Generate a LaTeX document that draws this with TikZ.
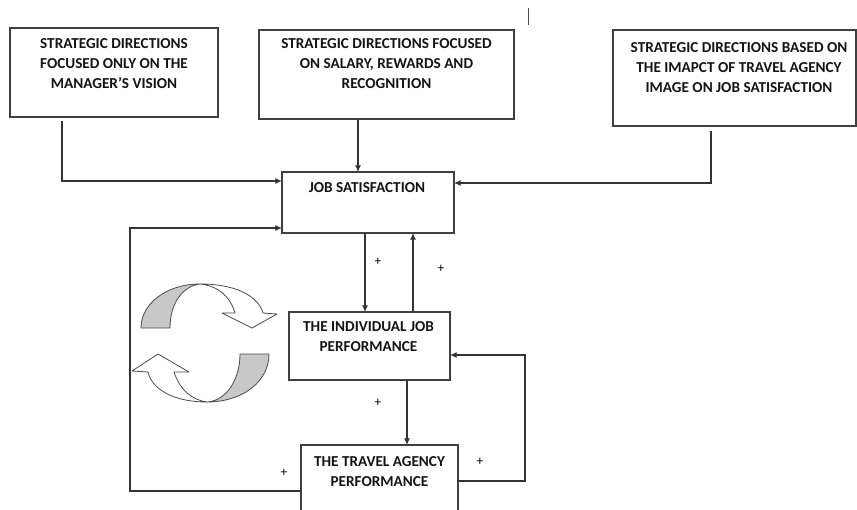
\documentclass[tikz,border=0pt]{standalone}
\usepackage{fontspec}
\setmainfont{Carlito}
\usetikzlibrary{arrows.meta}
\definecolor{ribgray}{RGB}{200,200,200}
\begin{document}
\begin{tikzpicture}[x=0.75pt,y=-0.75pt,
  box/.style={draw=black!75, line width=0.9pt, inner sep=0pt, outer sep=0pt},
  lbl/.style={font=\fontsize{11.4}{15}\selectfont\bfseries, align=center, inner sep=0pt, text=black!92},
  conn/.style={draw=black!80, line width=0.8pt, -{Latex[length=5pt,width=4.5pt]}},
  plain/.style={draw=black!80, line width=0.8pt},
  sign/.style={font=\fontsize{10}{10}\selectfont, inner sep=0pt},
  ribbon/.style={draw=black!70, line width=0.6pt, line join=round}]
\clip (0,0) rectangle (857,510);
\fill[white] (0,0) rectangle (857,510);

% boxes
\node[box, minimum width=156pt, minimum height=66.75pt] (b1) at (114,72.5) {};
\node[box, minimum width=191.25pt, minimum height=66.75pt] (b2) at (386.5,74.5) {};
\node[box, minimum width=182.25pt, minimum height=72pt] (b3) at (734.5,78) {};
\node[box, minimum width=129pt, minimum height=45.75pt] (js) at (368,202.5) {};
\node[box, minimum width=120.75pt, minimum height=51pt] (ijp) at (369.5,346) {};
\node[box, minimum width=117.75pt, minimum height=56.25pt] (tap) at (379.5,482.5) {};

% labels
\node[lbl] (t1) at (114,64) {STRATEGIC DIRECTIONS\\FOCUSED ONLY ON THE\\MANAGER’S VISION};
\node[lbl] (t2) at (386.5,64) {STRATEGIC DIRECTIONS FOCUSED\\ON SALARY, REWARDS AND\\RECOGNITION};
\node[lbl] (t3) at (739,67.5) {STRATEGIC DIRECTIONS BASED ON\\THE IMAPCT OF TRAVEL AGENCY\\IMAGE ON JOB SATISFACTION};
\node[lbl] (t4) at (367,188) {JOB SATISFACTION};
\node[lbl] (t5) at (368.5,337) {THE INDIVIDUAL JOB\\PERFORMANCE};
\node[lbl] (t6) at (379.5,471.5) {THE TRAVEL AGENCY\\PERFORMANCE};

% stray mark
\draw[black!70, line width=0.7pt] (528,8) -- (528,25);

% connectors from strategic boxes
\coordinate (k1) at (62,181);
\draw[conn] (b1.south -| k1) ++(0,4) -- (k1) -- (js.west |- k1);
\coordinate (k2) at (358,0);
\draw[conn] (b2.south -| k2) -- (js.north -| k2);
\coordinate (k3) at (711,183);
\draw[conn] (b3.south -| k3) ++(0,5) -- (k3) -- (js.east |- k3);

% inner loop
\coordinate (k4) at (365,0);
\draw[conn] (js.south -| k4) -- (ijp.north -| k4);
\coordinate (k5) at (413,0);
\draw[conn] (ijp.north -| k5) -- (js.south -| k5);
\coordinate (k6) at (407,0);
\draw[conn] (ijp.south -| k6) -- (tap.north -| k6);
\coordinate (k7) at (525,481);
\coordinate (k8) at (525,355);
\draw[conn] (tap.east |- k7) -- (k7) -- (k8) -- (ijp.east |- k8);
\coordinate (k9) at (130,491);
\coordinate (k10) at (130,228);
\draw[conn] (tap.west |- k9) -- (k9) -- (k10) -- (js.west |- k10);

% signs
\node[sign] (p1) at (378,262) {+};
\node[sign] (p2) at (441,269) {+};
\node[sign] (p3) at (378,403) {+};
\node[sign] (p4) at (480,462) {+};
\node[sign] (p5) at (284,473) {+};

% circular arrows (upper)
\filldraw[ribbon, fill=ribgray] (141,328) -- (170,328) .. controls (170,303) and (183,286) .. (200,284)
  .. controls (166,284) and (141,304) .. (141,328) -- cycle;
\filldraw[ribbon, fill=white] (200,284) .. controls (236,284) and (258,296) .. (263,313)
  -- (277,314) -- (252,328) -- (222,313) -- (235,313)
  .. controls (230,296) and (218,286) .. (200,284) -- cycle;
% circular arrows (lower)
\filldraw[ribbon, fill=ribgray] (240,354) -- (269,354) .. controls (269,382) and (242,402) .. (207,402)
  .. controls (226,401) and (240,380) .. (240,354) -- cycle;
\filldraw[ribbon, fill=white] (207,402) .. controls (175,402) and (152,390) .. (148,372)
  -- (132,371) -- (158,354) -- (189,372) -- (174,372)
  .. controls (180,390) and (192,400) .. (207,402) -- cycle;
\end{tikzpicture}
\end{document}
